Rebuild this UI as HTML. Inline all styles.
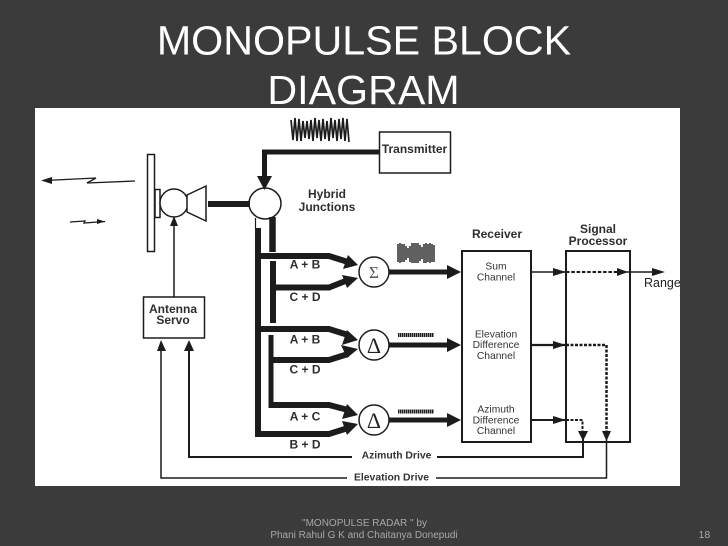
<!DOCTYPE html>
<html>
<head>
<meta charset="utf-8">
<style>
html,body{margin:0;padding:0;background:#3b3b3b;}
body{width:728px;height:546px;overflow:hidden;position:relative;font-family:"Liberation Sans",sans-serif;}
svg{position:absolute;left:0;top:0;}
</style>
</head>
<body>
<svg width="728" height="546" viewBox="0 0 728 546" xmlns="http://www.w3.org/2000/svg" font-family="'Liberation Sans',sans-serif">
<rect width="728" height="546" fill="#3b3b3b"/>
<text x="364" y="54.500" font-size="41.200" fill="#fff" text-anchor="middle">MONOPULSE BLOCK</text>
<text x="363.500" y="104" font-size="41.200" fill="#fff" text-anchor="middle">DIAGRAM</text>
<rect x="35" y="108" width="645" height="378" fill="#fff"/>
<g stroke="#1c1c1c" stroke-width="1.700" fill="none">
  <path d="M291 120L293 140L295 118L297 141L299 119L301 141L303 121L305 138L307 121L309 139L311 120L313 141L315 118L317 138L319 120L321 141L323 119L325 139L327 121L329 141L331 118L333 138L335 120L337 141L339 119L341 139L343 118L345 141L347 119L349 142"/>
</g>
<g stroke="#1c1c1c" stroke-width="1.400" fill="none">
  <path d="M398 244V262M400 243V263M402 244V262M404 244V262M406 246V260M408 248V258M410 246V262M412 243V263M414 243V263M416 243V263M418 243V263M420 245V261M422 247V259M424 244V263M426 243V263M428 244V262M430 243V263M432 244V262M434 245V262"/>
</g>
<path d="M398 335H434" stroke="#1c1c1c" stroke-width="4" stroke-dasharray="1.500 .5"/>
<path d="M398 411.500H434" stroke="#1c1c1c" stroke-width="4" stroke-dasharray="1.500 .5"/>

<!-- antenna -->
<g fill="#fff" stroke="#1c1c1c" stroke-width="1.500">
  <rect x="147.500" y="154.500" width="7" height="97"/>
  <rect x="155" y="189.500" width="5" height="28"/>
  <circle cx="174" cy="203" r="14"/>
  <path d="M187 195L206 186V221L187 212Z"/>
  <ellipse cx="265" cy="203.500" rx="16" ry="15.500"/>
  <rect x="379.500" y="132" width="71" height="41"/>
  <rect x="143.500" y="297" width="61" height="41"/>
  <rect x="462" y="251" width="69" height="191" stroke-width="2"/>
  <rect x="566" y="251" width="64" height="191" stroke-width="2"/>
</g>
<!-- rays -->
<g fill="none" stroke="#1c1c1c" stroke-width="1.300">
  <path d="M45 180.500L96 178L87 183L135 181"/>
  <path d="M70 222L85 221L84 223L105 221.500"/>
</g>
<path d="M41 180.500L52 177V184Z" fill="#1c1c1c"/>
<path d="M105 221.500L97 219V224Z" fill="#1c1c1c"/>

<!-- thick connectors -->
<g fill="none" stroke="#1c1c1c" stroke-linejoin="miter">
  <path d="M208 204H250" stroke-width="6"/>
  <path d="M379 152H264.500V178" stroke-width="5"/>
  <path d="M258 228V437" stroke-width="6"/>
  <path d="M255.500 218V229" stroke-width="1.200"/>
  <path d="M272.500 217V252" stroke-width="6.500"/>
  <path d="M273 261V323" stroke-width="6"/>
  <path d="M271 335V408" stroke-width="5"/>
  <path d="M258 256H329L348 262" stroke-width="6"/>
  <path d="M273 287.500H329L348 280" stroke-width="6"/>
  <path d="M258 329H329L348 335" stroke-width="6"/>
  <path d="M271 360H329L348 354" stroke-width="6"/>
  <path d="M269 405H329L348 410" stroke-width="6"/>
  <path d="M255 434H329L348 428" stroke-width="6"/>
  <path d="M389 272H452" stroke-width="5"/>
  <path d="M389 345H452" stroke-width="5"/>
  <path d="M389 420H452" stroke-width="5"/>
</g>
<g fill="#1c1c1c">
  <path d="M257 176H272L264.500 190Z"/>
  <path d="M358 265L343 269L348 255Z"/>
  <path d="M358 278L342 275L347 288Z"/>
  <path d="M358 340L342 345L347 330Z"/>
  <path d="M358 349L341 345L347 358Z"/>
  <path d="M358 415L342 419L347 404Z"/>
  <path d="M358 424L342 421L347 435Z"/>
  <path d="M461 272L447 265V279Z"/>
  <path d="M461 345L447 338V352Z"/>
  <path d="M461 420L447 413V427Z"/>
</g>
<g fill="#fff" stroke="#1c1c1c" stroke-width="1.500">
  <circle cx="374" cy="272" r="15"/>
  <circle cx="374" cy="345" r="15"/>
  <circle cx="374" cy="420" r="15"/>
</g>
<text x="374" y="278" font-size="17" font-family="'Liberation Serif',serif" text-anchor="middle" fill="#555">Σ</text>
<text x="374" y="353" font-size="22" font-family="'Liberation Serif',serif" text-anchor="middle" fill="#222">Δ</text>
<text x="374" y="428" font-size="22" font-family="'Liberation Serif',serif" text-anchor="middle" fill="#222">Δ</text>

<!-- thin connectors -->
<g fill="none" stroke="#1c1c1c">
  <path d="M174 297V226" stroke-width="1.500"/>
  <path d="M161 350V478H347M436 478H606.500V436" stroke-width="1.500"/>
  <path d="M189 350V457H352M437 457H583V436" stroke-width="2"/>
  <path d="M531 272H566" stroke-width="1.500"/>
  <path d="M531 345H566" stroke-width="2.200"/>
  <path d="M531 420H566" stroke-width="2"/>
  <path d="M566 272H620" stroke-width="2" stroke-dasharray="3.500 1.800"/>
  <path d="M620 272H660" stroke-width="1.500"/>
  <path d="M566 345H606.500V432" stroke-width="2.500" stroke-dasharray="3 1.500"/>
  <path d="M566 420H582.500V432" stroke-width="2" stroke-dasharray="3 1.500"/>
</g>
<g fill="#1c1c1c">
  <path d="M174 216L170 226H178Z"/>
  <path d="M161 340L157 351H166Z"/>
  <path d="M189 340L184 351H194Z"/>
  <path d="M566 272L553 268V276Z"/>
  <path d="M566 345L553 341V349Z"/>
  <path d="M566 420L553 416V424Z"/>
  <path d="M628 272L617 268V276Z"/>
  <path d="M665 272L652 268V276Z"/>
  <path d="M583 441L578 431H588Z"/>
  <path d="M606.500 441L602 431H611Z"/>
</g>

<!-- labels -->
<g fill="#2e2e2e" font-size="12" text-anchor="middle" font-weight="bold">
  <text x="327" y="198">Hybrid</text>
  <text x="327" y="211">Junctions</text>
  <text x="414.500" y="153">Transmitter</text>
  <text x="497" y="238">Receiver</text>
  <text x="598" y="233">Signal</text>
  <text x="598" y="245">Processor</text>
  <text x="173" y="313">Antenna</text>
  <text x="173" y="324">Servo</text>
  <text x="305" y="268.500">A + B</text>
  <text x="305" y="301">C + D</text>
  <text x="305" y="343.500">A + B</text>
  <text x="305" y="373.500">C + D</text>
  <text x="305" y="420.500">A + C</text>
  <text x="305" y="448.500">B + D</text>
</g>
<g fill="#333" font-size="10.300" text-anchor="middle">
  <text x="496" y="269.500">Sum</text>
  <text x="496" y="280.500">Channel</text>
  <text x="496" y="337.500">Elevation</text>
  <text x="496" y="348">Difference</text>
  <text x="496" y="359">Channel</text>
  <text x="496" y="412.500">Azimuth</text>
  <text x="496" y="423.500">Difference</text>
  <text x="496" y="434">Channel</text>
  <text x="396.500" y="458.500" font-weight="bold" font-size="10.400">Azimuth Drive</text>
  <text x="391.500" y="480.500" font-weight="bold" font-size="10.400">Elevation Drive</text>
</g>
<svg x="35" y="108" width="645" height="378" viewBox="35 108 645 378">
  <text x="644" y="287" font-size="12.500" fill="#222">Range</text>
</svg>

<!-- footer -->
<g fill="#a8a8a8" font-size="10">
  <text x="364.500" y="526" text-anchor="middle">"MONOPULSE RADAR " by</text>
  <text x="364" y="538" text-anchor="middle">Phani Rahul G K and Chaitanya Donepudi</text>
  <text x="698.500" y="538" font-size="10.500">18</text>
</g>
</svg>
</body>
</html>
